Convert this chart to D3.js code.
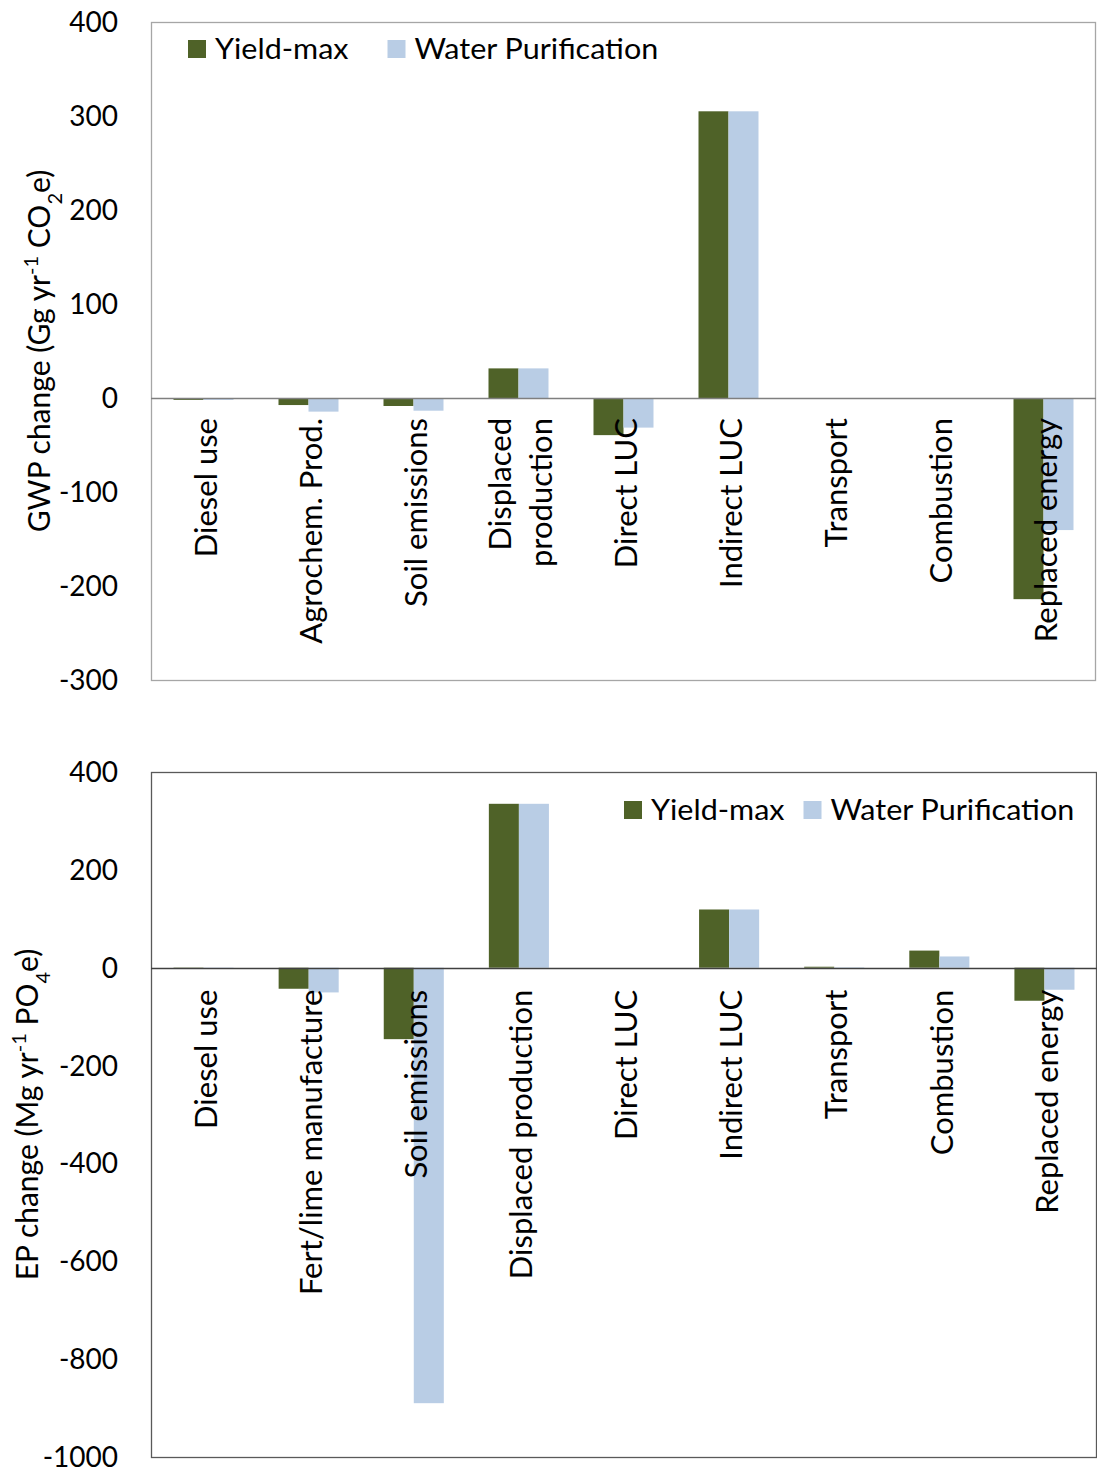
<!DOCTYPE html>
<html>
<head>
<meta charset="utf-8">
<script src="https://cdn.jsdelivr.net/npm/d3@7"></script>
<style>
  html, body { margin: 0; padding: 0; background: #fff; }
  svg { display: block; }
</style>
</head>
<body>
<svg id="chart" width="1097" height="1472"></svg>
<script>
// Series shared by both panels
const seriesNames = ["Yield-max", "Water Purification"];
const seriesColors = ["#4f6228", "#b9cde5"];

// Global warming potential panel (Gg yr-1 CO2e)
const gwpCategories = ["Diesel use", "Agrochem. Prod.", "Soil emissions", "Displaced\nproduction",
  "Direct LUC", "Indirect LUC", "Transport", "Combustion", "Replaced energy"];
const gwpYieldMax = [-2, -7.5, -8.5, 31.5, -39.5, 305, 0, 0, -214];
const gwpWaterPurification = [-2, -14.5, -13.5, 31.5, -31.5, 305, 0, 0, -140.5];
const gwpTicks = [400, 300, 200, 100, 0, -100, -200, -300];

// Eutrophication potential panel (Mg yr-1 PO4e)
const epCategories = ["Diesel use", "Fert/lime manufacture", "Soil emissions", "Displaced production",
  "Direct LUC", "Indirect LUC", "Transport", "Combustion", "Replaced energy"];
const epYieldMax = [-2, -43, -146, 335, 0, 119, 2, 35, -67.5];
const epWaterPurification = [-1.5, -50.5, -890, 335, 0, 119, 1, 23, -45];
const epTicks = [400, 200, 0, -200, -400, -600, -800, -1000];

const svg = d3.select("#chart");
const font = "Lato";
const legendStretch = 1.09;

function drawPanel(opts) {
  const { categories, series, ticks, left, right, top, bottom, frameColor, zeroColor,
          titleParts, titleX, legendX, legendY, legendGap, labelGap } = opts;
  const g = svg.append("g");

  const x = d3.scaleBand().domain(categories).range([left, right]).paddingInner(0).paddingOuter(0);
  const xs = d3.scaleBand().domain(seriesNames).range([0, x.bandwidth()]).paddingInner(0).paddingOuter(0.75);
  const y = d3.scaleLinear().domain([d3.min(ticks), d3.max(ticks)]).range([bottom, top]);

  // plot-area frame
  g.append("rect")
    .attr("x", left + 0.5).attr("y", top + 0.5)
    .attr("width", right - left - 1).attr("height", bottom - top)
    .attr("fill", "none").attr("stroke", frameColor).attr("stroke-width", 1.3);

  // bars
  seriesNames.forEach((name, si) => {
    g.append("g").selectAll("rect")
      .data(categories.map((c, i) => ({ c, v: series[si][i] })))
      .join("rect")
      .attr("x", d => x(d.c) + xs(name))
      .attr("width", xs.bandwidth())
      .attr("y", d => y(Math.max(0, d.v)))
      .attr("height", d => Math.abs(y(d.v) - y(0)))
      .attr("fill", seriesColors[si]);
  });

  // zero line
  g.append("line")
    .attr("x1", left).attr("x2", right)
    .attr("y1", Math.round(y(0)) + 0.5).attr("y2", Math.round(y(0)) + 0.5)
    .attr("stroke", zeroColor).attr("stroke-width", 1.3);

  // value axis
  const axis = d3.axisLeft(y).tickValues(ticks).tickSize(0).tickPadding(33).tickFormat(d3.format("d"));
  const ag = g.append("g").attr("transform", `translate(${left},0)`).call(axis);
  ag.select(".domain").remove();
  ag.selectAll("text")
    .attr("font-family", font).attr("font-size", 28).attr("fill", "#000")
    .attr("dy", "0.34em")
    .text(d => d < 0 ? "-" + Math.abs(d) : d);

  // category labels, rotated, hanging below the zero line
  const lblG = g.append("g");
  categories.forEach(c => {
    const lines = c.split("\n");
    const cx = x(c) + x.bandwidth() / 2 + 2;
    lines.forEach((ln, li) => {
      const off = (li - (lines.length - 1) / 2) * 41;
      lblG.append("text")
        .attr("transform", `translate(${cx + off},${y(0) + labelGap}) rotate(-90)`)
        .attr("text-anchor", "end")
        .attr("dy", "0.36em")
        .attr("font-family", font).attr("font-size", 31).attr("fill", "#000")
        .text(ln);
    });
  });

  // axis title with super/subscripts
  const title = g.append("text")
    .attr("transform", `translate(${titleX},${(top + bottom) / 2}) rotate(-90)`)
    .attr("text-anchor", "middle")
    .attr("font-family", font).attr("font-size", 30).attr("fill", "#000");
  titleParts.forEach(p => {
    const t = title.append("tspan").text(p.t);
    if (p.s === "sup") t.attr("font-size", 20).attr("baseline-shift", "super");
    if (p.s === "sub") t.attr("font-size", 20).attr("baseline-shift", "sub");
  });

  // legend
  const lg = g.append("g").attr("transform", `translate(${legendX},${legendY})`);
  let cursor = 0;
  seriesNames.forEach((name, si) => {
    lg.append("rect").attr("x", cursor).attr("y", -9).attr("width", 18).attr("height", 18)
      .attr("fill", seriesColors[si]);
    const t = lg.append("text")
      .attr("transform", `translate(${cursor + 27},0) scale(${legendStretch},1)`)
      .attr("dy", "0.36em")
      .attr("font-family", font).attr("font-size", 28).attr("fill", "#000").text(name);
    cursor += 27 + t.node().getComputedTextLength() * legendStretch + legendGap;
  });
}

drawPanel({
  categories: gwpCategories,
  series: [gwpYieldMax, gwpWaterPurification],
  ticks: gwpTicks,
  left: 151, right: 1096, top: 22, bottom: 680,
  frameColor: "#a6a6a6", zeroColor: "#7f7f7f",
  titleParts: [{ t: "GWP change (Gg yr" }, { t: "-1", s: "sup" }, { t: " CO" }, { t: "2", s: "sub" }, { t: "e)" }],
  titleX: 50, legendX: 188, legendY: 49, legendGap: 39, labelGap: 20
});

drawPanel({
  categories: epCategories,
  series: [epYieldMax, epWaterPurification],
  ticks: epTicks,
  left: 151, right: 1097, top: 772, bottom: 1457,
  frameColor: "#595959", zeroColor: "#404040",
  titleParts: [{ t: "EP change (Mg yr" }, { t: "-1", s: "sup" }, { t: " PO" }, { t: "4", s: "sub" }, { t: "e)" }],
  titleX: 38, legendX: 624, legendY: 810, legendGap: 19, labelGap: 22
});
</script>
</body>
</html>
